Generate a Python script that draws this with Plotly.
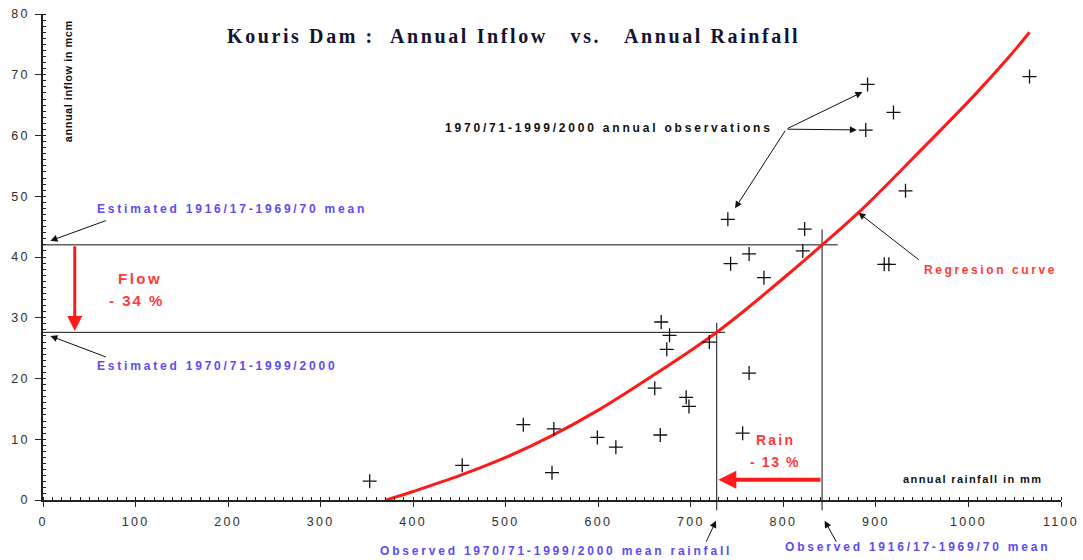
import plotly.graph_objects as go

# ---------------- data ----------------
rain_obs = [353, 453, 519, 552, 550, 599, 619, 668, 677, 674, 720, 763, 661, 695, 698,
            667, 756, 740, 823, 821, 763, 743, 779, 909, 914, 891, 919, 889, 932, 1066]
inflow_obs = [3.1, 5.7, 12.4, 11.7, 4.5, 10.3, 8.7, 29.3, 27.1, 24.8, 26.0, 20.9, 18.4, 16.9, 15.4,
              10.7, 11.0, 46.2, 44.6, 41.0, 40.5, 38.9, 36.6, 38.8, 38.8, 68.4, 63.8, 60.9, 50.9, 69.7]

curve_rain = [371, 400, 450, 500, 550, 600, 650, 700, 728, 750, 800, 842, 886, 950, 1005, 1043, 1066]
curve_inflow = [0, 1.4, 4.0, 7.0, 10.6, 14.8, 19.6, 24.6, 27.6, 30.2, 36.5, 42.0, 48.0, 57.8, 66.4, 72.8, 77.0]

rain_mean_old = 841.8    # observed 1916/17-1969/70 mean rainfall
rain_mean_new = 728.0    # observed 1970/71-1999/2000 mean rainfall
flow_mean_old = 42.0     # estimated 1916/17-1969/70 mean inflow
flow_mean_new = 27.6     # estimated 1970/71-1999/2000 mean inflow

x_tickvals = [0, 100, 200, 300, 400, 500, 600, 700, 800, 900, 1000, 1100]
x_ticklabels = ["0", "100", "200", "300", "400", "500", "600", "700", "800", "900", "1000", "1100"]
y_tickvals = [0, 10, 20, 30, 40, 50, 60, 70, 80]
y_ticklabels = ["0", "10", "20", "30", "40", "50", "60", "70", "80"]

X_MAX = 1100
Y_MAX = 80

# ---------------- styling helpers ----------------
BLUE = "#5b4cf5"
RED = "#ff3a3a"
SANS = "Liberation Sans, Arial, sans-serif"
SERIF = "Liberation Serif, Times New Roman, serif"


def sp(text, ls):
    return "<span style='letter-spacing:%spx'>%s</span>" % (ls, text)


fig = go.Figure()

fig.add_trace(go.Scatter(
    x=curve_rain, y=curve_inflow, mode="lines",
    line=dict(color="#ff1a1a", width=3, shape="spline", smoothing=1.0),
    hoverinfo="skip"))

fig.add_trace(go.Scatter(
    x=rain_obs, y=inflow_obs, mode="markers",
    marker=dict(symbol="cross-thin", size=10, line=dict(color="#111111", width=1.3)),
    hoverinfo="skip"))

# ---------------- reference lines ----------------
line_style = dict(color="#111111", width=1)
shapes = [
    dict(type="line", xref="x", yref="y", x0=0, x1=858.8, y0=flow_mean_old, y1=flow_mean_old,
         line=line_style, layer="below"),
    dict(type="line", xref="x", yref="y", x0=0, x1=737, y0=flow_mean_new, y1=flow_mean_new,
         line=line_style, layer="below"),
    dict(type="line", xref="x", yref="paper", x0=rain_mean_old, x1=rain_mean_old,
         y0=-0.021, y1=44.55 / Y_MAX, line=line_style, layer="below"),
    dict(type="line", xref="x", yref="paper", x0=rain_mean_new, x1=rain_mean_new,
         y0=-0.021, y1=29.15 / Y_MAX, line=line_style, layer="below"),
]

annotations = []


def text_ann(x, y, text, color, size, ls, xanchor="center", xref="x", yref="y", angle=0,
             family=SANS, weight="bold"):
    annotations.append(dict(
        x=x, y=y, xref=xref, yref=yref, text=sp(text, ls), showarrow=False,
        xanchor=xanchor, yanchor="middle", textangle=angle,
        font=dict(family=family, size=size, color=color, weight=weight)))


def arrow(x, y, ax, ay, color="#111111", width=1, head=2, size=1.4, axref="x", ayref="y",
          xref="x", yref="y"):
    annotations.append(dict(
        x=x, y=y, ax=ax, ay=ay, xref=xref, yref=yref, axref=axref, ayref=ayref,
        text="", showarrow=True, arrowhead=head, arrowsize=size, arrowwidth=width,
        arrowcolor=color, standoff=0, startstandoff=0))


# title
annotations.append(dict(
    x=0.4619, y=0.9553, xref="paper", yref="paper", showarrow=False,
    xanchor="center", yanchor="middle",
    text=sp("Kouris Dam :\u00a0\u00a0Annual Inflow\u00a0\u00a0\u00a0vs.\u00a0\u00a0\u00a0Annual Rainfall", 2.6),
    font=dict(family=SERIF, size=20, color="#141432", weight="bold")))

# axis titles
text_ann(27.8, 68.9, "annual inflow in mcm", "#111111", 11, 0.5, angle=-90)
text_ann(1004.5, 3.38, "annual rainfall in mm", "#111111", 11, 1.4)

# observations label + arrows
text_ann(791, 61.25, "1970/71-1999/2000 annual observations", "#111111", 12, 2.8, xanchor="right")
arrow(885.4, 67.14, 803.0, 61.04)
arrow(879.4, 60.92, 803.0, 61.04)
arrow(747.8, 48.01, 803.0, 61.04)

# regression label
text_ann(1023.8, 37.84, "Regresion curve", RED, 12, 2.6)
arrow(881.1, 47.29, 947.8, 39.37)

# estimated means
text_ann(56.6, 47.9, "Estimated 1916/17-1969/70 mean", BLUE, 12, 2.8, xanchor="left")
arrow(8.0, 42.67, 69.6, 46.08)
text_ann(56.6, 22.0, "Estimated 1970/71-1999/2000", BLUE, 12, 2.8, xanchor="left")
arrow(8.0, 27.0, 69.6, 23.45)

# flow change
arrow(34.3, flow_mean_new + 0.2, 34.3, flow_mean_old, color="#ff1a1a", width=3, head=2, size=1.0)
text_ann(104.5, 36.47, "Flow", RED, 15, 2.5)
text_ann(101.0, 32.9, "- 34 %", RED, 15, 2.0)

# rain change
arrow(rain_mean_new + 1.7, 3.33, rain_mean_old, 3.33, color="#ff1a1a", width=4, head=2, size=0.9)
text_ann(791.1, 9.81, "Rain", RED, 14, 2.2)
text_ann(791.1, 6.23, "- 13 %", RED, 14, 1.6)

# observed means below axis
arrow(rain_mean_new - 0.8, -0.0427, -10.5, 22.5, xref="x", yref="paper", axref="pixel", ayref="pixel", size=1.4)
arrow(rain_mean_old + 2.8, -0.0427, 12.5, 22.5, xref="x", yref="paper", axref="pixel", ayref="pixel", size=1.4)
text_ann(554.3, -0.104, "Observed 1970/71-1999/2000 mean rainfall", BLUE, 12, 2.8, yref="paper")
text_ann(944.6, -0.0973, "Observed 1916/17-1969/70 mean", BLUE, 12, 2.8, yref="paper")

tickfont = dict(family=SANS, size=12.5, color="#2e2e2e")

fig.update_layout(
    width=1083, height=560,
    margin=dict(l=43, r=22, t=14, b=60),
    plot_bgcolor="white", paper_bgcolor="white",
    showlegend=False,
    shapes=shapes,
    annotations=annotations,
    xaxis=dict(
        range=[0, X_MAX], showgrid=False, zeroline=False, automargin=False,
        showline=True, linecolor="#222222", linewidth=1.5,
        ticks="outside", ticklen=5, tickwidth=1.3, tickcolor="#222222",
        tickmode="array", tickvals=x_tickvals,
        ticktext=[sp(t, 2.3) for t in x_ticklabels],
        tickfont=tickfont, ticklabelstandoff=4,
        minor=dict(ticks="inside", ticklen=3, dtick=10, tick0=0, tickcolor="#222222", tickwidth=1),
    ),
    yaxis=dict(
        range=[0, Y_MAX], showgrid=False, zeroline=False, automargin=False,
        showline=True, linecolor="#222222", linewidth=1.5,
        ticks="outside", ticklen=6, tickwidth=1.3, tickcolor="#222222",
        tickmode="array", tickvals=y_tickvals,
        ticktext=[sp(t, 2.3) for t in y_ticklabels],
        tickfont=tickfont, ticklabelstandoff=3,
        minor=dict(ticks="inside", ticklen=3, dtick=1, tick0=0, tickcolor="#222222", tickwidth=1),
    ),
)

fig.write_html("out.html")
